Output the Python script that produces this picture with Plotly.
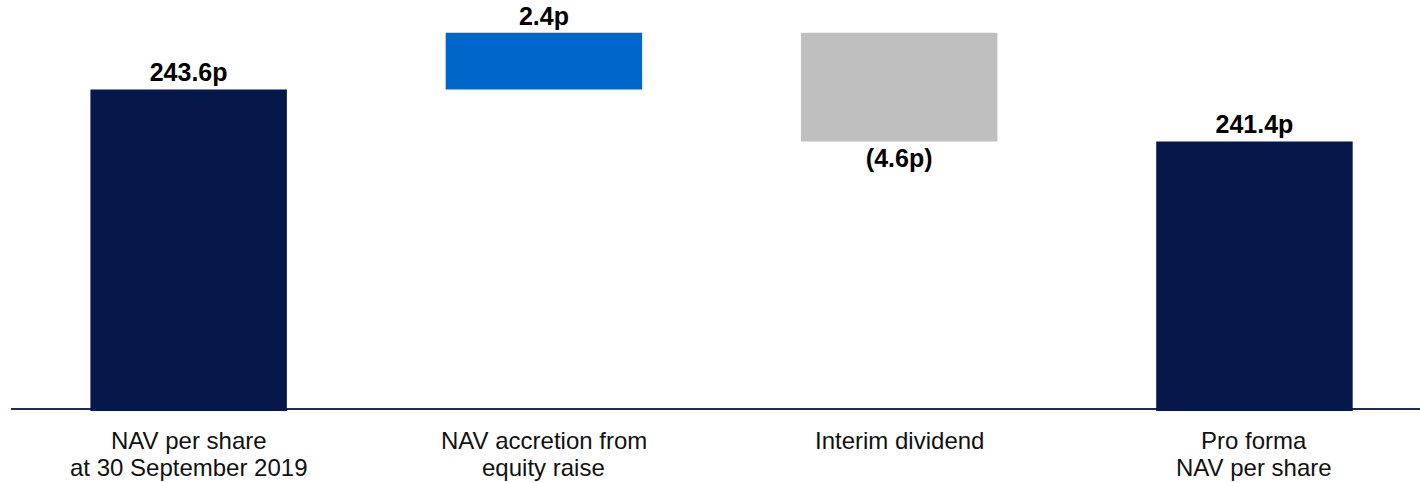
import plotly.graph_objects as go

categories = [
    "NAV per share<br>at 30 September 2019",
    "NAV accretion from<br>equity raise",
    "Interim dividend",
    "Pro forma<br>NAV per share",
]
measures = ["absolute", "relative", "relative", "total"]
values = [243.6, 2.4, -4.6, 241.4]
labels = ["243.6p", "2.4p", "(4.6p)", "241.4p"]

NAVY = "#061749"
BLUE = "#0066CC"
GREY = "#BFBFBF"

fig = go.Figure(
    go.Waterfall(
        x=categories,
        y=values,
        measure=measures,
        text=labels,
        textposition="outside",
        textfont=dict(family="Liberation Sans, Arial", size=25, color="#000000", weight="bold"),
        totals=dict(marker=dict(color=NAVY, line=dict(width=0))),
        increasing=dict(marker=dict(color=BLUE, line=dict(width=0))),
        decreasing=dict(marker=dict(color=GREY, line=dict(width=0))),
        connector=dict(visible=False),
        cliponaxis=False,
        width=0.553,
        hoverinfo="skip",
    )
)

fig.add_shape(
    type="line", xref="paper", yref="y", x0=0, x1=1, y0=230.085, y1=230.085,
    line=dict(color="#1F2A5A", width=2), layer="below",
)

# category labels (two-line, tight spacing)
PLOT_BOTTOM = 411
PLOT_H = 411
line_centers = [441, 467.7]
for cat in categories:
    for i, part in enumerate(cat.split("<br>")):
        fig.add_annotation(
            x=cat, xref="x", yref="paper",
            y=(PLOT_BOTTOM - line_centers[i]) / PLOT_H,
            text=part, showarrow=False, xanchor="center", yanchor="middle",
            font=dict(family="Liberation Sans, Arial", size=24, color="#111111"),
        )

fig.update_layout(
    width=1420, height=483,
    margin=dict(l=11, r=0, t=0, b=72),
    paper_bgcolor="white", plot_bgcolor="white",
    showlegend=False,
    font=dict(family="Liberation Sans, Arial", color="#111111"),
    xaxis=dict(
        range=[-0.5, 3.466], showgrid=False, zeroline=False, showline=False,
        ticks="", showticklabels=False,
    ),
    yaxis=dict(range=[230, 247.38], visible=False, showgrid=False, zeroline=False),
)

fig.write_html("out.html")
